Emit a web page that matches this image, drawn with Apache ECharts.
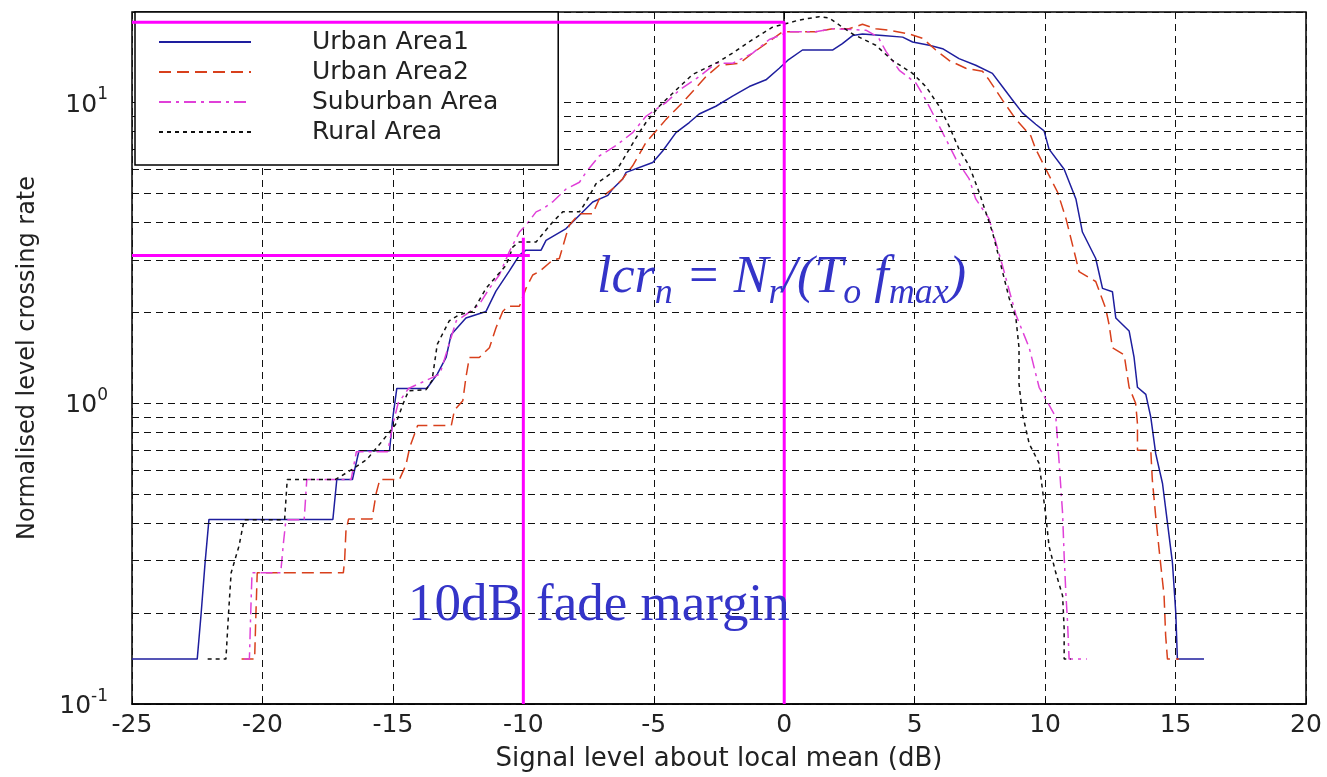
<!DOCTYPE html>
<html><head><meta charset="utf-8">
<script src="https://cdn.jsdelivr.net/npm/echarts@6/dist/echarts.min.js"></script>
<style>html,body{margin:0;padding:0;background:#fff}#c{width:1327px;height:777px}</style>
</head><body><div id="c"></div>
<script>
// ---------- data (x = signal level dB, y = normalised LCR) ----------
const seriesNames = ['Urban Area1', 'Urban Area2', 'Suburban Area', 'Rural Area'];
const xTicks = [-25, -20, -15, -10, -5, 0, 5, 10, 15, 20];
const minorGridValues = [0.2, 0.3, 0.4, 0.5, 0.6, 0.7, 0.8, 0.9, 2, 3, 4, 5, 6, 7, 8, 9];

const urban1 = [[-25,0.141],[-22.5,0.141],[-22.35,0.2],[-22.2,0.294],[-22.05,0.411],[-17.3,0.411],[-17.15,0.558],[-16.55,0.558],[-16.3,0.695],[-15.13,0.695],[-15.0,0.9],[-14.85,1.12],[-13.7,1.12],[-13.3,1.25],[-12.96,1.42],[-12.77,1.69],[-12.2,1.92],[-11.43,2.02],[-11.05,2.36],[-10.54,2.75],[-10.15,3.11],[-9.9,3.23],[-9.32,3.23],[-9.13,3.48],[-8.36,3.81],[-7.85,4.22],[-7.34,4.67],[-6.76,4.91],[-6.58,5.16],[-6.19,5.57],[-6.06,5.86],[-5.04,6.32],[-4.66,6.9],[-4.15,7.94],[-3.64,8.58],[-3.26,9.16],[-2.62,9.72],[-1.98,10.5],[-1.34,11.3],[-0.7,11.9],[-0.19,13.0],[0.13,13.8],[0.7,14.95],[1.85,14.95],[2.23,15.7],[2.62,16.7],[3.0,16.9],[3.77,16.7],[4.54,16.5],[4.92,15.9],[5.56,15.5],[6.07,15.1],[6.7,14.0],[7.34,13.3],[7.98,12.5],[8.36,11.3],[8.75,10.2],[9.13,9.24],[9.64,8.47],[9.96,8.05],[10.15,7.0],[10.73,6.0],[11.18,4.78],[11.43,3.71],[11.94,3.03],[12.2,2.41],[12.58,2.35],[12.71,1.92],[13.22,1.74],[13.41,1.42],[13.54,1.13],[13.86,1.07],[14.05,0.899],[14.24,0.68],[14.5,0.541],[14.69,0.4],[14.88,0.295],[15.01,0.2],[15.07,0.141],[16.09,0.141]];

const urban2 = [[-20.8,0.141],[-20.3,0.141],[-20.25,0.2],[-20.2,0.273],[-16.9,0.273],[-16.85,0.3],[-16.8,0.375],[-16.7,0.412],[-15.8,0.412],[-15.64,0.502],[-15.5,0.558],[-14.75,0.558],[-14.5,0.623],[-14.35,0.716],[-14.05,0.844],[-12.76,0.844],[-12.64,0.948],[-12.32,1.02],[-12.2,1.22],[-12.07,1.42],[-11.69,1.42],[-11.3,1.53],[-11.05,1.78],[-10.79,2.02],[-10.6,2.1],[-10.15,2.1],[-9.9,2.41],[-9.64,2.67],[-9.39,2.74],[-8.88,2.99],[-8.62,3.03],[-8.36,3.62],[-8.24,3.91],[-7.85,4.27],[-7.34,4.27],[-7.09,4.78],[-6.58,5.16],[-6.2,5.57],[-5.81,6.16],[-5.3,7.36],[-4.53,8.79],[-3.9,9.98],[-3.0,12.2],[-2.49,13.3],[-1.72,13.5],[-1.21,14.6],[-0.7,15.7],[-0.06,17.2],[1.21,17.2],[1.85,17.6],[2.49,17.6],[3.0,18.2],[3.51,17.6],[4.02,17.4],[4.79,16.9],[5.3,16.35],[5.81,14.95],[6.32,13.8],[6.96,13.0],[7.6,12.7],[7.85,11.9],[8.36,10.2],[8.88,8.79],[9.45,7.75],[9.64,7.0],[10.03,6.0],[10.48,5.03],[10.8,4.11],[11.18,3.03],[11.3,2.74],[11.94,2.54],[12.32,2.07],[12.45,1.83],[12.58,1.53],[13.03,1.45],[13.22,1.13],[13.47,1.0],[13.54,0.855],[13.54,0.698],[14.05,0.698],[14.11,0.556],[14.24,0.42],[14.37,0.326],[14.56,0.229],[14.62,0.169],[14.69,0.141],[15.13,0.141]];

const suburban = [[-20.7,0.141],[-20.5,0.141],[-20.45,0.2],[-20.4,0.273],[-19.3,0.273],[-19.2,0.34],[-19.1,0.41],[-18.4,0.41],[-18.3,0.558],[-16.6,0.558],[-16.4,0.69],[-15.2,0.69],[-15.0,0.85],[-14.8,1.0],[-14.4,1.12],[-13.2,1.25],[-12.57,1.88],[-12.2,1.97],[-11.69,2.13],[-11.3,2.41],[-10.92,2.67],[-10.54,3.19],[-10.15,3.71],[-9.9,3.91],[-9.51,4.33],[-9.26,4.43],[-8.88,4.67],[-8.36,5.16],[-7.85,5.43],[-7.6,5.86],[-7.09,6.64],[-6.45,7.19],[-5.81,7.94],[-5.3,9.0],[-4.53,10.0],[-4.02,11.0],[-3.26,12.2],[-2.62,13.5],[-1.98,13.5],[-1.21,14.6],[-0.57,16.2],[0.19,17.2],[1.21,17.2],[1.85,17.6],[3.13,17.4],[3.6,16.5],[3.9,14.8],[4.41,12.8],[5.05,11.6],[5.43,10.2],[6.07,7.94],[6.58,6.5],[7.09,5.57],[7.34,4.78],[7.85,4.11],[8.36,2.88],[8.88,1.97],[9.39,1.53],[9.77,1.13],[10.41,0.9],[10.54,0.631],[10.67,0.43],[10.73,0.31],[10.8,0.229],[10.86,0.187],[10.92,0.141],[11.6,0.141]];

const rural = [[-22.1,0.141],[-21.4,0.141],[-21.3,0.2],[-21.2,0.273],[-20.9,0.335],[-20.7,0.41],[-19.15,0.41],[-19.05,0.558],[-17.2,0.558],[-16.6,0.6],[-16.0,0.65],[-15.4,0.75],[-14.9,0.85],[-14.6,1.0],[-14.4,1.1],[-13.73,1.11],[-13.5,1.19],[-13.3,1.57],[-12.84,1.88],[-12.45,1.97],[-11.94,2.02],[-11.43,2.41],[-10.66,2.88],[-10.4,3.31],[-10.15,3.44],[-9.51,3.44],[-8.88,4.0],[-8.49,4.33],[-7.85,4.33],[-7.6,4.67],[-7.22,5.36],[-6.58,5.86],[-6.32,6.16],[-5.56,7.94],[-5.3,8.58],[-4.79,9.72],[-4.15,11.0],[-3.51,12.4],[-2.49,13.7],[-1.98,14.6],[-1.21,16.2],[-0.45,17.8],[0.57,18.8],[1.34,19.3],[1.72,19.1],[2.23,17.8],[2.62,16.9],[3.51,15.5],[4.15,13.8],[4.92,12.5],[5.43,11.3],[5.94,9.72],[6.32,8.35],[6.7,7.0],[7.09,6.16],[7.47,5.03],[7.98,3.71],[8.24,3.03],[8.62,2.24],[8.88,1.92],[9.0,1.53],[9.0,1.16],[9.13,0.922],[9.39,0.734],[9.77,0.631],[9.9,0.515],[10.03,0.42],[10.15,0.335],[10.41,0.273],[10.67,0.229],[10.73,0.178],[10.73,0.141],[10.99,0.141]];

// annotation guide lines (magenta)
const meanGuide = [[-25,18.5],[0,18.5],[0,0.1]];
const fadeHGuide = [[-25,3.1],[-9.75,3.1]];
const fadeVGuide = [[-10,3.55],[-10,0.1]];
const formulaText = '{i|lcr}{s|n}{i| = N}{s|r}{i|/(T}{s|o}{i| f}{s|max}{i|)}';
const fadeText = '10dB fade margin';

// ---------- chart ----------
const FONT = 'DejaVu Sans';
const chart = echarts.init(document.getElementById('c'), null, {renderer: 'canvas'});
const styles = [
  {color: '#1e1e9e', type: 'solid'},
  {color: '#d8401c', type: [12, 6]},
  {color: '#e040d8', type: [12, 5, 3, 5]},
  {color: '#111111', type: [4, 4]}
];
const dataSets = [urban1, urban2, suburban, rural];
const series = dataSets.map((d, i) => ({
  name: seriesNames[i], type: 'line', data: d, showSymbol: false, symbol: 'none',
  lineStyle: {color: styles[i].color, width: 1.5, type: styles[i].type},
  itemStyle: {color: styles[i].color}, z: 3, silent: true
}));
series.push({
  name: 'minor', type: 'line', data: [], silent: true,
  markLine: {silent: true, symbol: 'none', label: {show: false},
    lineStyle: {color: '#111', width: 1, type: [7, 5]},
    data: minorGridValues.map(v => ({yAxis: v}))}
});
[meanGuide, fadeHGuide, fadeVGuide].forEach((g, k) => series.push({
  name: 'guide' + k, type: 'line', data: g, showSymbol: false, symbol: 'none', silent: true,
  lineStyle: {color: '#ff00ff', width: 3, type: 'solid'}, z: 10
}));

chart.setOption({
  animation: false,
  backgroundColor: '#fff',
  grid: {left: 132, right: 21, top: 12, bottom: 68, show: true, borderColor: '#000', borderWidth: 1.5, backgroundColor: 'transparent'},
  legend: {
    data: seriesNames, orient: 'vertical', left: 135, top: 12, selectedMode: false,
    backgroundColor: '#fff', borderColor: '#000', borderWidth: 1.5,
    padding: [15, 60, 18, 23], itemWidth: 92, itemHeight: 14, itemGap: 0,
    itemStyle: {color: 'rgba(0,0,0,0)', borderColor: 'rgba(0,0,0,0)', borderWidth: 0, opacity: 0},
    textStyle: {fontFamily: FONT, fontSize: 25, color: '#222', lineHeight: 30, padding: [0, 0, 0, 56]},
    z: 6
  },
  xAxis: {
    type: 'value', min: xTicks[0], max: xTicks[xTicks.length - 1], interval: 5,
    name: 'Signal level about local mean (dB)', nameLocation: 'middle', nameGap: 42,
    nameTextStyle: {fontFamily: FONT, fontSize: 26, color: '#222'},
    axisLine: {onZero: false, lineStyle: {color: '#000', width: 1.5}},
    axisTick: {inside: true, length: 6, lineStyle: {color: '#000'}},
    axisLabel: {fontFamily: FONT, fontSize: 25, color: '#222', margin: 9},
    splitLine: {show: true, lineStyle: {color: '#111', width: 1, type: [7, 5]}}
  },
  yAxis: {
    type: 'log', logBase: 10, min: 0.1, max: 20,
    name: 'Normalised level crossing rate', nameLocation: 'middle', nameGap: 92,
    nameTextStyle: {fontFamily: FONT, fontSize: 24, color: '#222'},
    axisLine: {lineStyle: {color: '#000', width: 1.5}},
    axisTick: {inside: true, length: 6, lineStyle: {color: '#000'}},
    axisLabel: {
      margin: 24,
      formatter: function (v) {
        const e = Math.log10(v), r = Math.round(e);
        if (Math.abs(e - r) > 1e-6) return '';
        return '{b|10}{e|' + r + '}';
      },
      rich: {
        b: {fontFamily: FONT, fontSize: 25, color: '#222', verticalAlign: 'bottom', lineHeight: 30},
        e: {fontFamily: FONT, fontSize: 17, color: '#222', verticalAlign: 'bottom', lineHeight: 18, padding: [0, 0, 14, 0]}
      }
    },
    splitLine: {show: true, lineStyle: {color: '#111', width: 1, type: [7, 5]}}
  },
  graphic: [
    {type: 'text', left: 597, top: 252, z: 20, silent: true,
      style: {text: formulaText, fill: '#3434c8',
        rich: {
          i: {fontFamily: 'Liberation Serif', fontStyle: 'italic', fontSize: 52, fill: '#3434c8', verticalAlign: 'bottom', lineHeight: 54, padding: [0, 0, 8, 0]},
          s: {fontFamily: 'Liberation Serif', fontStyle: 'italic', fontSize: 36, fill: '#3434c8', verticalAlign: 'bottom', lineHeight: 38}
        }}},
    {type: 'text', left: 408, top: 580, z: 20, silent: true,
      style: {text: fadeText, fill: '#3434c8', fontFamily: 'Liberation Serif', fontSize: 53}}
  ],
  series: series
});
</script></body></html>
